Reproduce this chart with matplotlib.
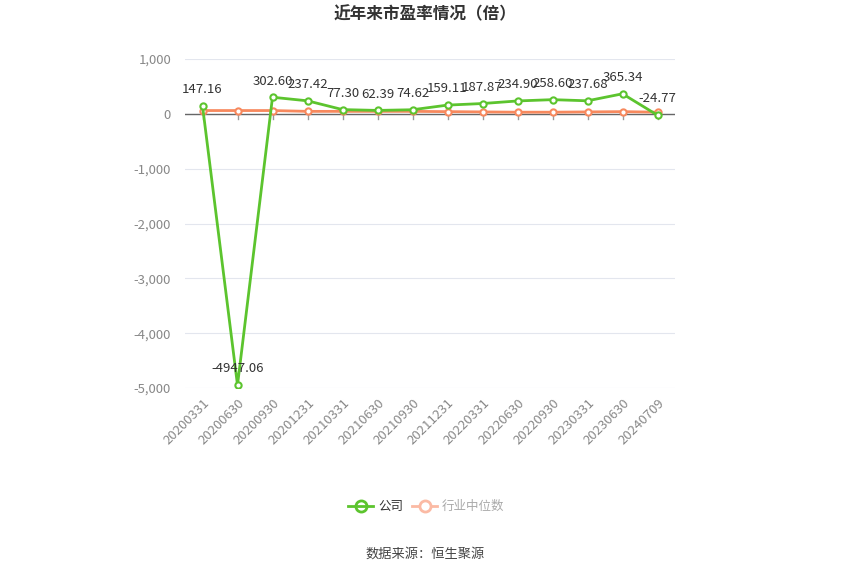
import matplotlib
matplotlib.use('Agg')
import matplotlib.pyplot as plt
from matplotlib.ticker import FuncFormatter

plt.rcParams['font.family'] = ['Noto Sans CJK SC', 'DejaVu Sans']

# data
dates = ['20200331', '20200630', '20200930', '20201231', '20210331', '20210630', '20210930',
         '20211231', '20220331', '20220630', '20220930', '20230331', '20230630', '20240709']
company = [147.16, -4947.06, 302.60, 237.42, 77.30, 62.39, 74.62,
           159.11, 187.87, 234.90, 258.60, 237.68, 365.34, -24.77]
industry = [60, 60, 60, 45, 45, 45, 45, 40, 35, 30, 30, 35, 40, 30]

green = '#5cc42e'
orange = '#f7895e'

fig = plt.figure(figsize=(8.5, 5.75), dpi=100)
ax = fig.add_axes([185/850, 1-388/575, 490/850, 329/575])

x = list(range(len(dates)))
ax.plot(x, industry, color=orange, lw=2, marker='o', ms=4.5, mfc='white', mec=orange, mew=1.5, zorder=3)
ax.plot(x, company, color=green, lw=2, marker='o', ms=4.5, mfc='white', mec=green, mew=1.5, zorder=4)

for i, v in enumerate(company):
    ax.annotate(f'{v:.2f}', (i, v), xytext=(0, 7), textcoords='offset points',
                ha='center', va='bottom', fontsize=9.5, color='#333333', zorder=5)

ax.set_xlim(-0.5, len(dates) - 0.5)
ax.set_ylim(-5000, 1000)
ax.set_yticks(range(-5000, 1001, 1000))
ax.yaxis.set_major_formatter(FuncFormatter(lambda v, p: f'{int(v):,}'))
ax.grid(axis='y', color='#e3e6ee', lw=0.8)
ax.set_axisbelow(True)
for s in ax.spines.values():
    s.set_visible(False)
ax.axhline(0, color='#666666', lw=1, zorder=2)
# small ticks under the zero line
for i in x:
    ax.plot([i, i], [0, -90], color='#999999', lw=1, zorder=2)

ax.set_xticks(x)
ax.set_xticklabels(dates, rotation=45, ha='right', va='top', rotation_mode='anchor',
                   fontsize=9.5, color='#888888')
ax.tick_params(axis='x', length=0, pad=6)
ax.tick_params(axis='y', length=0, labelsize=9.5, labelcolor='#888888', pad=10)

fig.text(0.5, 1-14/575, '近年来市盈率情况（倍）', ha='center', va='center',
         fontsize=12, fontweight='bold', color='#333333')

# legend drawn by hand so the second item can look faded
ly = 1-506/575
fig.lines.append(plt.Line2D([348/850, 373/850], [ly, ly], transform=fig.transFigure,
                            color=green, lw=2, marker='', zorder=5))
fig.lines.append(plt.Line2D([360.5/850], [ly], transform=fig.transFigure, color=green,
                            marker='o', ms=8, mfc='white', mec=green, mew=2))
fig.text(378/850, ly, '公司', ha='left', va='center', fontsize=9, color='#333333')
fade = '#fbbaa4'
fig.lines.append(plt.Line2D([412/850, 437/850], [ly, ly], transform=fig.transFigure,
                            color=fade, lw=2))
fig.lines.append(plt.Line2D([424.5/850], [ly], transform=fig.transFigure, color=fade,
                            marker='o', ms=8, mfc='white', mec=fade, mew=2))
fig.text(442/850, ly, '行业中位数', ha='left', va='center', fontsize=9, color='#aaaaaa')

fig.text(0.5, 1-554/575, '数据来源：恒生聚源', ha='center', va='center', fontsize=9.5, color='#444444')

fig.savefig('out.png', dpi=100)
